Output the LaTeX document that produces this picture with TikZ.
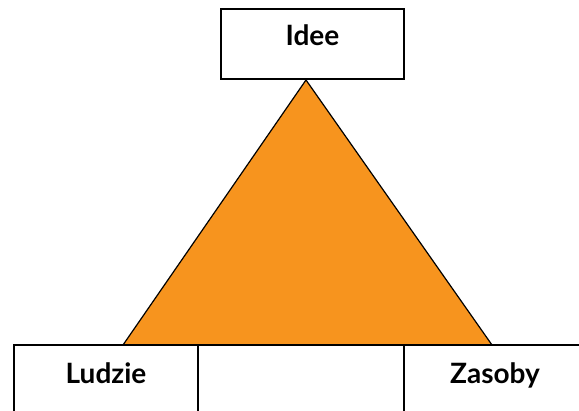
\documentclass[tikz,border=0pt]{standalone}
\usepackage{fontspec}
\setmainfont{Lato}
\usepackage{tikz}
\usetikzlibrary{positioning}

\definecolor{pomarancz}{RGB}{247,148,30}
\tikzset{
  pole/.style={draw, line width=1.5pt, fill=white, inner xsep=0pt, inner ysep=0pt, outer sep=0pt,
    font=\bfseries\fontsize{28}{28}\selectfont},
}

\begin{document}
\begin{tikzpicture}[x=1pt,y=1pt]
\useasboundingbox (0,0) rectangle (579,411);
\clip (0,0) rectangle (579,411);

\coordinate (szczyt) at (306,331);
\coordinate (lewy) at (123,66);
\coordinate (prawy) at (492,66);

\filldraw [pomarancz, draw=black, line width=1.2pt, line join=round] (szczyt) -- (lewy) -- (prawy) -- cycle;

\node [pole, anchor=north west, minimum width=183pt, text height=37pt, text depth=33pt] (idee) at (221,402) {Idee};

\node [pole, anchor=north west, minimum width=184pt, text height=39pt, text depth=40pt] (ludzie) at (14,66) {Ludzie};
\node [pole, anchor=north west, minimum width=206pt, text height=39pt, text depth=40pt] (srodek) at (ludzie.north east) {};
\node [pole, anchor=north west, minimum width=182pt, text height=39pt, text depth=40pt] (zasoby) at (srodek.north east) {Zasoby};

\end{tikzpicture}
\end{document}
